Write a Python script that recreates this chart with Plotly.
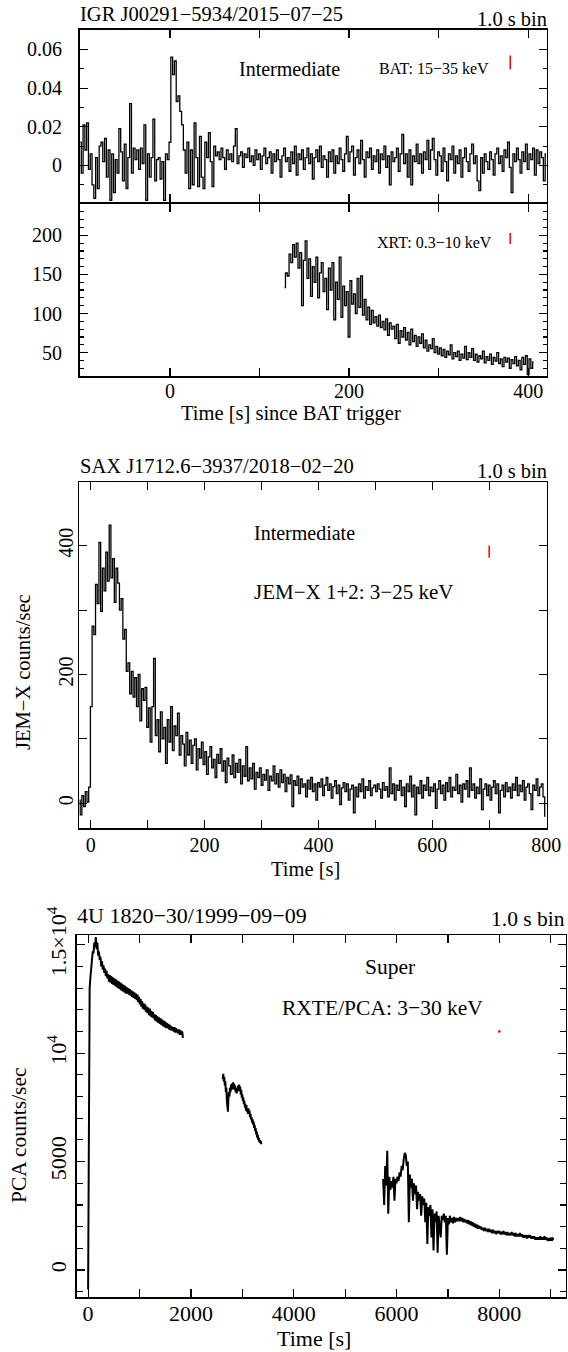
import plotly.graph_objects as go

W, H = 568, 1352
FONT = "Liberation Serif"

# ---------------- data ----------------
# Swift/BAT light curve, IGR J00291-5934 (counts/s/det), bins start at bat_t0
bat_t0, bat_dt = -100, 2
bat_rate = [
    0.012, -0.004, 0.021, 0.008, 0.022, -0.002, 0.006, -0.010, -0.017, 0.004,
    -0.012, 0.010, 0.012, 0.002, 0.014, -0.006, 0.008, -0.018, 0.006, -0.014,
    0.003, -0.004, 0.019, 0.007, -0.008, 0.011, -0.012, 0.004, 0.032, -0.004,
    0.009, 0.003, 0.008, -0.002, 0.009, 0.001, 0.021, -0.018, 0.006, -0.006,
    0.004, 0.024, -0.008, 0.003, 0.004, -0.007, 0.002, -0.018, 0.006, 0.003,
    0.012, 0.056, 0.047, 0.054, 0.033, 0.036, 0.028, 0.021, 0.008, -0.004,
    0.012, -0.012, 0.008, -0.010, 0.022, 0.004, -0.011, 0.015, -0.006, -0.012,
    0.012, 0.004, 0.017, 0.002, -0.011, 0.010, 0.005, 0.007, 0.003, 0.009,
    0.004, -0.002, 0.008, 0.003, 0.006, 0.002, 0.010, 0.019, 0.001, 0.005,
    0.007, -0.001, 0.006, 0.004, 0.009, 0.002, 0.005, 0.000, 0.008, 0.003,
    0.006, -0.002, 0.005, 0.009, 0.001, 0.004, 0.007, -0.004, 0.006, 0.002,
    0.008, 0.003, -0.006, 0.005, 0.009, 0.002, 0.004, -0.003, 0.007, 0.001,
    0.010, -0.005, 0.006, 0.003, 0.008, -0.002, 0.004, 0.009, 0.001, 0.006,
    -0.007, 0.004, 0.008, 0.002, 0.010, -0.001, 0.005, 0.003, -0.006, 0.007,
    0.002, 0.008, -0.004, 0.005, 0.001, 0.009, 0.003, -0.003, 0.006, 0.015,
    0.002, 0.007, 0.010, -0.005, 0.004, 0.008, 0.001, 0.013, 0.003, -0.006,
    0.007, 0.004, 0.009, -0.002, 0.005, 0.002, 0.008, -0.004, 0.006, 0.003,
    0.010, -0.001, 0.005, -0.010, 0.007, 0.002, 0.004, 0.009, -0.003, 0.006,
    0.016, 0.001, 0.006, -0.006, 0.008, -0.010, 0.005, 0.002, 0.011, 0.001,
    0.006, -0.004, 0.007, 0.003, 0.013, -0.002, 0.008, 0.014, 0.003, -0.005,
    0.007, 0.005, -0.003, 0.009, 0.002, -0.008, 0.006, 0.003, 0.010, -0.004,
    0.005, 0.001, 0.008, -0.006, 0.004, 0.009, 0.002, -0.003, 0.006, 0.011,
    0.001, 0.005, -0.008, -0.013, 0.004, -0.004, 0.006, 0.002, -0.002, 0.007,
    0.003, -0.005, 0.006, 0.009, 0.001, 0.005, -0.003, 0.008, 0.004, 0.012,
    -0.001, -0.014, 0.006, 0.002, 0.009, 0.003, -0.004, 0.007, 0.002, 0.011,
    -0.002, 0.006, 0.003, 0.009, -0.005, 0.008, 0.001, 0.007, 0.004, -0.008,
    0.006,
]

# Swift/XRT light curve (counts/s)
xrt_t0, xrt_dt = 128, 2
xrt_rate = [
    133, 152, 148, 176, 165, 188, 172, 190, 158, 178,
    110, 168, 193, 145, 170, 122, 160, 140, 172, 120,
    152, 165, 128, 145, 105, 158, 130, 165, 92, 140,
    118, 172, 95, 135, 110, 128, 70, 142, 112, 125,
    100, 145, 108, 148, 98, 118, 92, 108, 86, 104,
    88, 96, 84, 98, 82, 90, 79, 93, 72, 88,
    80, 84, 68, 86, 62, 78, 70, 82, 66, 76,
    60, 80, 64, 72, 58, 70, 62, 74, 56, 66,
    52, 60, 55, 68, 50, 58, 48, 56, 46, 54,
    44, 52, 47, 60, 42, 50, 45, 52, 40, 48,
    43, 58, 41, 50, 44, 55, 40, 48, 38, 46,
    42, 52, 37, 45, 40, 48, 35, 44, 39, 50,
    36, 42, 32, 44, 38, 43, 30, 41, 36, 45,
    33, 40, 28, 44, 35, 46, 22, 42, 30, 38,
]

# INTEGRAL/JEM-X light curve, SAX J1712.6-3937 (counts/s)
jem_t0, jem_dt = -20, 3
jem_rate = [
    5, -18, 12, -5, 18, 2, 25, 150, 275, 262,
    340, 310, 405, 298, 365, 330, 390, 345, 432, 350,
    380, 312, 365, 342, 300, 318, 255, 270, 205, 218,
    170, 205, 165, 195, 150, 200, 128, 178, 160, 180,
    118, 148, 95, 150, 225, 105, 130, 80, 142, 100,
    118, 62, 130, 95, 150, 82, 120, 105, 140, 75,
    105, 92, 58, 110, 75, 98, 62, 90, 100, 52,
    85, 70, 95, 60, 80, 45, 72, 88, 55, 68,
    40, 76, 62, 85, 50, 66, 32, 70, 58, 45,
    75, 40, 62, 48, 68, 30, 58, 42, 88, 35,
    55, 38, 62, 22, 48, 40, 55, 28, 45, 36,
    52, 20, 42, 35, 58, 30, 46, 25, 52, 32,
    45, 18, 40, 30, 44, -5, 35, 28, 42, 15,
    38, 25, 30, 10, 36, 22, 40, 18, 30, 5,
    32, 25, 38, 12, 28, 40, 20, 30, 8, 26,
    35, 15, 28, -2, 24, 32, 18, 30, 5, 22,
    28, -15, 25, 10, 30, 18, 38, 8, 26, 20,
    35, 12, 24, 28, 18, 30, 22, 8, 32, 20,
    26, 10, 55, 15, 30, 5, 28, 20, 35, 12,
    25, -5, 30, 18, 42, 10, 28, -18, 25, 15,
    35, 8, 28, 20, 40, 12, 25, 18, 30, -8,
    22, 35, 15, 28, 5, 32, 18, 40, 10, 25,
    20, 45, 15, 28, 2, 30, 22, 35, 10, 55,
    20, 30, 8, 25, 15, 38, -10, 22, 30, 12,
    28, 5, 25, 35, 15, 30, -15, 20, 28, 10,
    32, 18, 25, 8, 30, 20, 40, 12, 28, 18,
    35, 5, 25, 30, 15, -10, 28, 20, 38, 12,
    25, 30, 10, -20,
]

# RXTE/PCA light curve, 4U 1820-30 superburst (counts/s), three data segments
pca1_t0, pca1_dt = 0, 15
pca1_rate = [
    -900, 12500, 13000, 13500, 14000, 14300, 14700, 14600, 15100, 14900,
    15350, 14800, 15100, 14500, 14700, 14300, 14450, 14000, 14250, 13850,
    14050, 13700, 13900, 13550, 13800, 13450, 13650, 13300, 13600, 13250,
    13550, 13200, 13500, 13150, 13450, 13100, 13400, 13050, 13350, 13000,
    13300, 12950, 13250, 12900, 13200, 12850, 13150, 12800, 13100, 12750,
    13050, 12750, 13000, 12700, 12950, 12650, 12900, 12600, 12850, 12550,
    12800, 12500, 12750, 12450, 12700, 12350, 12600, 12250, 12500, 12150,
    12400, 12050, 12300, 12000, 12250, 11900, 12150, 11850, 12100, 11750,
    12050, 11700, 11950, 11650, 11900, 11600, 11800, 11500, 11750, 11450,
    11700, 11400, 11650, 11350, 11600, 11300, 11550, 11250, 11500, 11200,
    11450, 11150, 11400, 11150, 11350, 11100, 11300, 11050, 11250, 11050,
    11200, 11000, 11200, 10950, 11150, 10950, 11100, 10900, 11100, 10850,
    11050, 10850, 11000, 10700,
]
pca2_t0, pca2_dt = 2620, 10
pca2_rate = [
    8800, 9050, 8700, 8900, 8500, 8700, 8200, 8400, 7800, 7500,
    7300, 7900, 8200, 8000, 8400, 8200, 8550, 8300, 8600, 8350,
    8650, 8400, 8600, 8300, 8500, 8200, 8350, 8150, 8400, 8250,
    8500, 8300, 8550, 8250, 8450, 8100, 8300, 7950, 8100, 7800,
    7950, 7650, 7800, 7500, 7650, 7350, 7600, 7300, 7450, 7200,
    7450, 7200, 7350, 7050, 7200, 6950, 7050, 6800, 6950, 6700,
    6850, 6550, 6700, 6400, 6550, 6250, 6400, 6100, 6250, 6000,
    6100, 5900, 6000, 5850, 5950, 5800,
]
pca3_t0, pca3_dt = 5740, 20
pca3_rate = [
    4200, 3000, 4800, 3900, 5500, 2600, 4300, 3700, 4100, 3800,
    4300, 3200, 4200, 4000, 4300, 4100, 4500, 4300, 4800, 4600,
    5100, 5400, 5300, 4800, 5000, 2200, 4400, 3800, 4200, 3200,
    4000, 3500, 3900, 2800, 3600, 3200, 3500, 2500, 3400, 3000,
    3300, 2200, 3100, 1200, 2900, 2500, 3000, 1500, 2800, 900,
    2600, 2200, 2700, 800, 2500, 2100, 1500, 2500, 2300, 2600,
    2200, 2500, 700, 2400, 2100, 2500, 2200, 2400, 2150, 2450,
    2200, 2400, 2250, 2400, 2250, 2450, 2250, 2400, 2200, 2350,
    2200, 2300, 2150, 2300, 2100, 2250, 2050, 2200, 2000, 2150,
    1950, 2100, 1900, 2050, 1900, 2000, 1850, 1950, 1800, 1950,
    1800, 1900, 1750, 1900, 1750, 1850, 1700, 1850, 1700, 1800,
    1650, 1800, 1700, 1800, 1650, 1750, 1650, 1800, 1650, 1750,
    1600, 1750, 1600, 1700, 1600, 1750, 1600, 1700, 1550, 1700,
    1550, 1650, 1550, 1700, 1550, 1650, 1500, 1600, 1500, 1600,
    1450, 1600, 1500, 1600, 1450, 1550, 1450, 1550, 1400, 1500,
    1400, 1500, 1400, 1550, 1400, 1500, 1400, 1550, 1400, 1500,
    1350, 1450, 1350, 1500, 1350, 1450, 1400,
]

# typical error bars (red) drawn in each panel: time, value, half-length
err_t = [380, 380, 700, 8000]
err_y = [0.0533, 196, 391, 11000]
err_e = [0.0036, 7, 9.5, 40]

# tick labels
bat_x_ticks = [-100, 0, 100, 200, 300, 400]
xrt_x_ticks = [0, 100, 200, 300, 400]
xrt_x_text = ["0", "", "200", "", "400"]
bat_y_ticks = [0, 0.02, 0.04, 0.06]
bat_y_text = ["0", "0.02", "0.04", "0.06"]
xrt_y_ticks = [50, 100, 150, 200]
jem_x_ticks = [0, 100, 200, 300, 400, 500, 600, 700, 800]
jem_x_text = ["0", "", "200", "", "400", "", "600", "", "800"]
jem_y_ticks = [0, 100, 200, 300, 400]
jem_y_text = ["0", "", "200", "", "400"]
pca_x_ticks = [0, 1000, 2000, 3000, 4000, 5000, 6000, 7000, 8000, 9000]
pca_x_text = ["0", "", "2000", "", "4000", "", "6000", "", "8000", ""]
pca_y_ticks = [0, 5000, 10000, 15000]
pca_y_text = ["0", "5000", "10<sup>4</sup>", "1.5×10<sup>4</sup>"]


def times(t0, dt, vals):
    return [t0 + i * dt for i in range(len(vals))]


fig = go.Figure()
line = dict(color="black", width=1.3, shape="hvh")

fig.add_trace(go.Scatter(x=times(bat_t0, bat_dt, bat_rate), y=bat_rate, mode="lines",
                         line=line, xaxis="x", yaxis="y"))
fig.add_trace(go.Scatter(x=times(xrt_t0, xrt_dt, xrt_rate), y=xrt_rate, mode="lines",
                         line=line, xaxis="x2", yaxis="y2"))
fig.add_trace(go.Scatter(x=times(jem_t0, jem_dt, jem_rate), y=jem_rate, mode="lines",
                         line=line, xaxis="x3", yaxis="y3"))
for t0, dt, vals in [(pca1_t0, pca1_dt, pca1_rate), (pca2_t0, pca2_dt, pca2_rate),
                     (pca3_t0, pca3_dt, pca3_rate)]:
    fig.add_trace(go.Scatter(x=times(t0, dt, vals), y=vals, mode="lines",
                             line=dict(color="black", width=2), xaxis="x4", yaxis="y4"))

for i, ax in enumerate(["", "2", "3", "4"]):
    fig.add_trace(go.Scatter(
        x=[err_t[i]], y=[err_y[i]], mode="markers",
        marker=dict(color="red", size=2.5 if i == 3 else 1),
        error_y=dict(type="data", array=[err_e[i]], color="red", thickness=1.5, width=0),
        xaxis="x" + ax, yaxis="y" + ax))

fig.update_traces(showlegend=False, hoverinfo="skip")


def xd(a, b):
    return [a / W, b / W]


def yd(top, bottom):
    return [1 - bottom / H, 1 - top / H]


def axis(size=20, **kw):
    d = dict(showline=True, linecolor="black", linewidth=1.5, mirror="ticks",
             ticks="inside", ticklen=8, tickwidth=1.2, tickcolor="black",
             showgrid=False, zeroline=False, automargin=False, tickmode="array",
             tickfont=dict(family=FONT, size=size, color="black"))
    d.update(kw)
    return d


minor_style = dict(ticks="inside", ticklen=4, tickwidth=1.2, tickcolor="black", showgrid=False)

# BAT panel bottom edge and XRT panel top edge overlap by one line width so the
# two frame lines coincide
fig.update_layout(
    width=W, height=H,
    margin=dict(l=0, r=0, t=0, b=0),
    paper_bgcolor="white", plot_bgcolor="white",
    font=dict(family=FONT, color="black"),
    xaxis=axis(domain=xd(79.5, 546.5), range=[-101, 420.5], anchor="y",
               tickvals=bat_x_ticks, showticklabels=False),
    yaxis=axis(domain=yd(29.5, 202.0), range=[-0.0189, 0.0703], anchor="x",
               tickvals=bat_y_ticks, ticktext=bat_y_text, ticklabelstandoff=12,
               minor=dict(dtick=0.01, tick0=0, **minor_style)),
    xaxis2=axis(domain=xd(79.5, 546.5), range=[-101, 420.5], anchor="y2",
                tickvals=xrt_x_ticks, ticktext=xrt_x_text, ticklabelstandoff=-4),
    yaxis2=axis(domain=yd(203.5, 376), range=[20.1, 240.7], anchor="x2",
                tickvals=xrt_y_ticks, ticktext=[str(v) for v in xrt_y_ticks],
                ticklabelstandoff=12,
                minor=dict(dtick=10, tick0=0, **minor_style)),
    xaxis3=axis(domain=xd(79.3, 546.7), range=[-20, 801], anchor="y3",
                tickvals=jem_x_ticks, ticktext=jem_x_text, ticklabelstandoff=-2),
    yaxis3=axis(domain=yd(482, 828), range=[-38.4, 499], anchor="x3",
                tickvals=jem_y_ticks, ticktext=jem_y_text, tickangle=-90,
                ticklabelstandoff=-3),
    xaxis4=axis(size=22, domain=xd(76.7, 565.5), range=[-222, 9288], anchor="y4",
                tickvals=pca_x_ticks, ticktext=pca_x_text, ticklabelstandoff=-4),
    yaxis4=axis(size=22, domain=yd(935, 1297.3), range=[-1260, 15450], anchor="x4",
                tickvals=pca_y_ticks, ticktext=pca_y_text, tickangle=-90,
                ticklabelstandoff=0,
                minor=dict(dtick=1000, tick0=0, ticks="inside", ticklen=6, tickwidth=1.2,
                           tickcolor="black", showgrid=False)),
)


def note(text, px, py, size, xanchor="center", angle=0):
    fig.add_annotation(text=text, x=px / W, y=1 - py / H, xref="paper", yref="paper",
                       xanchor=xanchor, yanchor="middle", showarrow=False, textangle=angle,
                       font=dict(family=FONT, size=size, color="black"))


# panel 1/2
note("IGR J00291−5934/2015−07−25", 78, 14, 20.5, "left")
note("1.0 s bin", 549, 19, 20.5, "right")
note("Intermediate", 289, 69, 20)
note("BAT: 15−35 keV", 434, 69, 16)
note("XRT: 0.3−10 keV", 434, 242.5, 16)
note("Time [s] since BAT trigger", 291, 414, 20.5)
# panel 3
note("SAX J1712.6−3937/2018−02−20", 78, 466, 20.5, "left")
note("1.0 s bin", 549, 471, 20.5, "right")
note("Intermediate", 304, 532.5, 20)
note("JEM−X 1+2: 3−25 keV", 353, 591.5, 21)
note("Time [s]", 305, 869, 20.5)
note("JEM−X counts/sec", 23, 672, 20.5, angle=-90)
# panel 4
note("4U 1820−30/1999−09−09", 75, 915, 22, "left")
note("1.0 s bin", 567, 919, 21.5, "right")
note("Super", 390, 967, 21.5)
note("RXTE/PCA: 3−30 keV", 382, 1008, 21.5)
note("Time [s]", 313.5, 1338, 22)
note("PCA counts/sec", 19, 1135, 21.5, angle=-90)

fig.write_html(
    "out.html",
    config={"displayModeBar": False, "staticPlot": True},
    post_script=("document.body.style.margin='0';"
                 "document.documentElement.style.overflow='hidden';"
                 "document.body.style.overflow='hidden';"),
)
